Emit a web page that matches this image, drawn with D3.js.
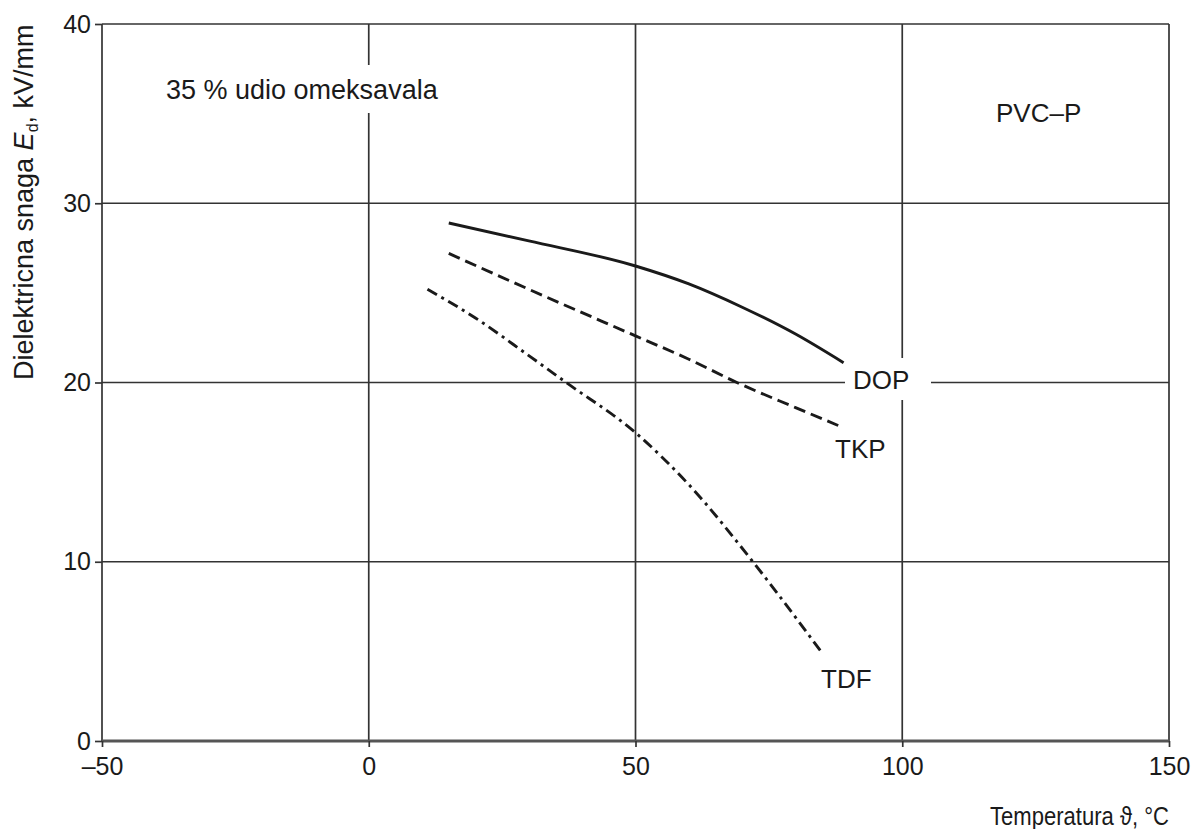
<!DOCTYPE html>
<html>
<head>
<meta charset="utf-8">
<script src="https://cdn.jsdelivr.net/npm/d3@7"></script>
<style>
  html, body { margin: 0; padding: 0; background: #fff; }
  svg { display: block; font-family: "Liberation Sans", Arial, sans-serif; }
</style>
</head>
<body>
<svg id="chart" width="1193" height="829"></svg>
<script>
// ---- data ----
const xTicks = [-50, 0, 50, 100, 150];
const yTicks = [0, 10, 20, 30, 40];
const dopT = [15, 30, 50, 60, 70, 80, 89];
const dopE = [28.9, 27.9, 26.5, 25.5, 24.2, 22.7, 21.1];
const tkpT = [15, 30, 50, 60, 69, 80, 88];
const tkpE = [27.2, 25.2, 22.6, 21.3, 20.0, 18.6, 17.6];
const tdfT = [11, 20, 30, 37, 50, 60, 72, 80, 85];
const tdfE = [25.2, 23.6, 21.5, 20.0, 17.2, 14.3, 10.0, 6.9, 4.9];
const seriesNames = ["DOP", "TKP", "TDF"];

// ---- layout ----
const svg = d3.select("#chart");
const x = d3.scaleLinear().domain([-50, 150]).range([102, 1169]);
const y = d3.scaleLinear().domain([0, 40]).range([741, 24]);
const gridColor = "#333";
const ink = "#1a1a1a";

// grid lines
svg.append("g").selectAll("line.v").data(xTicks).join("line")
  .attr("x1", d => x(d)).attr("x2", d => x(d))
  .attr("y1", y(40)).attr("y2", y(0))
  .attr("stroke", gridColor).attr("stroke-width", 1.7);
svg.append("g").selectAll("line.h").data(yTicks).join("line")
  .attr("x1", x(-50)).attr("x2", x(150))
  .attr("y1", d => y(d)).attr("y2", d => y(d))
  .attr("stroke", gridColor).attr("stroke-width", 1.7);
// bottom axis line (thicker, grey)
svg.append("line").attr("x1", x(-50)).attr("x2", x(150))
  .attr("y1", y(0)).attr("y2", y(0))
  .attr("stroke", "#555").attr("stroke-width", 2.8);

// axes (ticks + labels)
const xAxis = d3.axisBottom(x).tickValues(xTicks).tickSize(6).tickPadding(10)
  .tickFormat(d => d < 0 ? "\u2013" + Math.abs(d) : String(d));
const gx = svg.append("g").attr("transform", `translate(0,${y(0)})`).call(xAxis);
gx.select(".domain").remove();
gx.selectAll(".tick line").attr("stroke", gridColor).attr("stroke-width", 1.7);
gx.selectAll(".tick text").attr("fill", ink).attr("font-size", 25)
  .attr("font-family", "Liberation Sans, Arial, sans-serif");

const yAxis = d3.axisLeft(y).tickValues(yTicks).tickSize(7).tickPadding(4);
const gy = svg.append("g").attr("transform", `translate(${x(-50)},0)`).call(yAxis);
gy.select(".domain").remove();
gy.selectAll(".tick line").attr("stroke", gridColor).attr("stroke-width", 1.7);
gy.selectAll(".tick text").attr("fill", ink).attr("font-size", 25)
  .attr("font-family", "Liberation Sans, Arial, sans-serif");

// white masks behind in-plot labels (gaps in grid)
svg.append("rect").attr("x", 160).attr("y", 65).attr("width", 285).attr("height", 48).attr("fill", "#fff");
svg.append("rect").attr("x", 845).attr("y", 358).attr("width", 86).attr("height", 42).attr("fill", "#fff");

// curves
const line = d3.line().x(d => x(d[0])).y(d => y(d[1])).curve(d3.curveMonotoneX);
const series = [
  { name: seriesNames[0], pts: d3.zip(dopT, dopE), dash: null },
  { name: seriesNames[1], pts: d3.zip(tkpT, tkpE), dash: "12,6" },
  { name: seriesNames[2], pts: d3.zip(tdfT, tdfE), dash: "11,5,3,5" }
];
svg.append("g").selectAll("path").data(series).join("path")
  .attr("d", d => line(d.pts))
  .attr("fill", "none").attr("stroke", ink).attr("stroke-width", 2.9)
  .attr("stroke-dasharray", d => d.dash);

// series labels
const lab = [
  { t: seriesNames[0], x: 853, y: 389 },
  { t: seriesNames[1], x: 835, y: 458 },
  { t: seriesNames[2], x: 821, y: 688 }
];
svg.append("g").selectAll("text").data(lab).join("text")
  .attr("x", d => d.x).attr("y", d => d.y).text(d => d.t)
  .attr("font-size", 26).attr("fill", ink);

// annotations
svg.append("text").attr("x", 166).attr("y", 99).attr("font-size", 27).attr("fill", ink)
  .text("35 % udio omeksavala");
svg.append("text").attr("x", 996).attr("y", 122).attr("font-size", 26).attr("fill", ink)
  .text("PVC\u2013P");

// axis titles
svg.append("text").attr("x", 1169).attr("y", 825).attr("text-anchor", "end")
  .attr("font-size", 25).attr("fill", ink)
  .attr("textLength", 179).attr("lengthAdjust", "spacingAndGlyphs")
  .text("Temperatura \u03D1, \u00B0C");

const yt = svg.append("text").attr("transform", "translate(33,380) rotate(-90)")
  .attr("font-size", 27).attr("fill", ink);
yt.append("tspan").text("Dielektricna snaga ");
yt.append("tspan").attr("font-style", "italic").text("E");
yt.append("tspan").attr("font-size", 16).attr("dy", 5).text("d");
yt.append("tspan").attr("dy", -5).text(", kV/mm");
</script>
</body>
</html>
